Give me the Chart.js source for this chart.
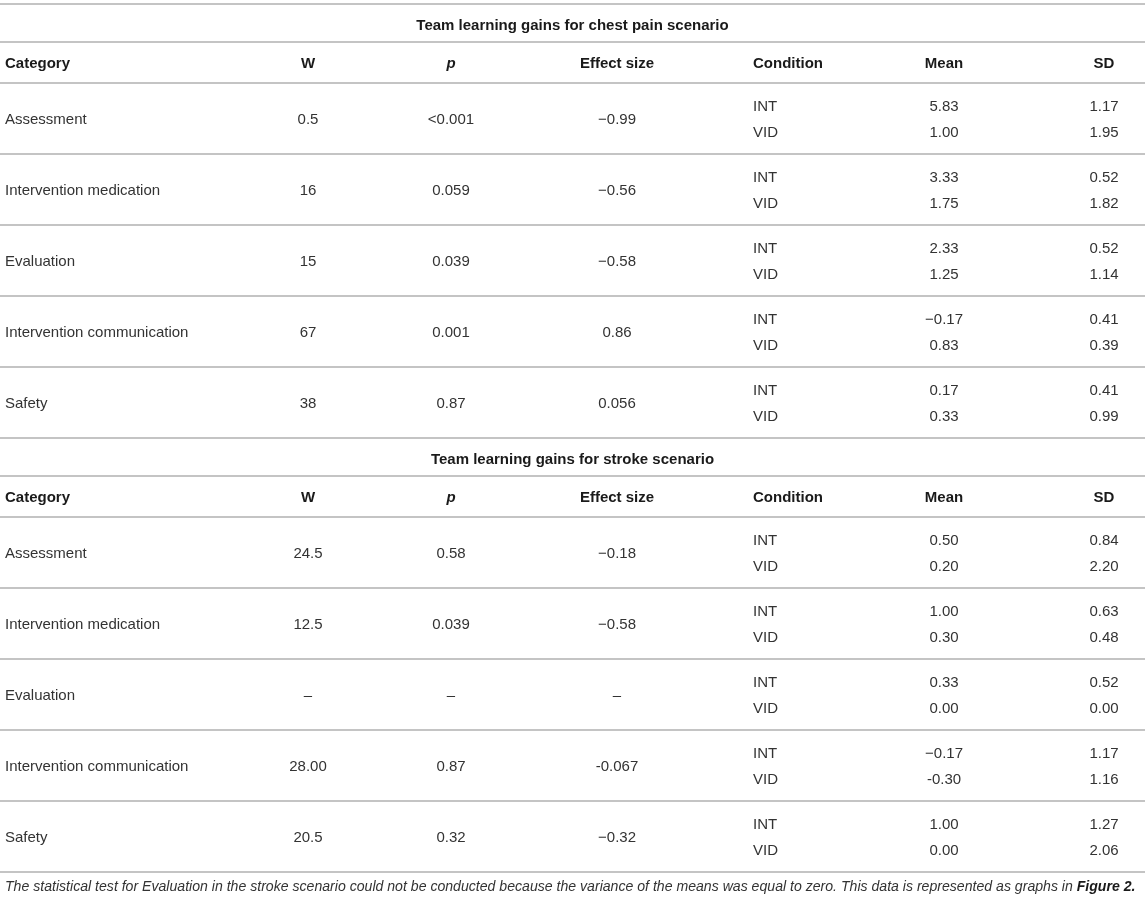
<!DOCTYPE html>
<html>
<head>
<meta charset="utf-8">
<title>Team learning gains</title>
<script src="https://cdn.jsdelivr.net/npm/chart.js@4"></script>
<style>
  html, body { margin: 0; padding: 0; background: #fff; }
  canvas { display: block; }
</style>
</head>
<body>
<canvas id="table" width="1145" height="899"></canvas>
<script>
// Table content
const columns = ['Category', 'W', 'p', 'Effect size', 'Condition', 'Mean', 'SD'];
const scenarios = ['Team learning gains for chest pain scenario', 'Team learning gains for stroke scenario'];
const categories = ['Assessment', 'Intervention medication', 'Evaluation', 'Intervention communication', 'Safety'];
const conditions = ['INT', 'VID'];

const chestW = ['0.5', '16', '15', '67', '38'];
const chestP = ['<0.001', '0.059', '0.039', '0.001', '0.87'];
const chestEffect = ['\u22120.99', '\u22120.56', '\u22120.58', '0.86', '0.056'];
const chestMeanInt = ['5.83', '3.33', '2.33', '\u22120.17', '0.17'];
const chestMeanVid = ['1.00', '1.75', '1.25', '0.83', '0.33'];
const chestSdInt = ['1.17', '0.52', '0.52', '0.41', '0.41'];
const chestSdVid = ['1.95', '1.82', '1.14', '0.39', '0.99'];

const strokeW = ['24.5', '12.5', '\u2013', '28.00', '20.5'];
const strokeP = ['0.58', '0.039', '\u2013', '0.87', '0.32'];
const strokeEffect = ['\u22120.18', '\u22120.58', '\u2013', '-0.067', '\u22120.32'];
const strokeMeanInt = ['0.50', '1.00', '0.33', '\u22120.17', '1.00'];
const strokeMeanVid = ['0.20', '0.30', '0.00', '-0.30', '0.00'];
const strokeSdInt = ['0.84', '0.63', '0.52', '1.17', '1.27'];
const strokeSdVid = ['2.20', '0.48', '0.00', '1.16', '2.06'];

const footnote = 'The statistical test for Evaluation in the stroke scenario could not be conducted because the variance of the means was equal to zero. This data is represented as graphs in ';
const footnoteRef = 'Figure 2.';

// Layout (in scale units, the scales span the canvas)
const colX = [5, 308, 451, 617, 753, 944, 1104];
const colAlign = ['left', 'center', 'center', 'center', 'left', 'center', 'center'];
const topY = 4, titleH = 38, headH = 41, rowH = 71, subOffset = 13;
const titleShift = 3, textShift = 1;

const sections = [
  { title: scenarios[0], w: chestW, p: chestP, eff: chestEffect,
    mean: [chestMeanInt, chestMeanVid], sd: [chestSdInt, chestSdVid] },
  { title: scenarios[1], w: strokeW, p: strokeP, eff: strokeEffect,
    mean: [strokeMeanInt, strokeMeanVid], sd: [strokeSdInt, strokeSdVid] }
];

const cells = [];
const rules = [topY];
let y = topY;
sections.forEach(sec => {
  cells.push({ x: 572.5, y: y + titleH / 2 + titleShift, text: sec.title, kind: 'title', align: 'center' });
  y += titleH;
  rules.push(y);
  columns.forEach((c, i) => {
    cells.push({ x: colX[i], y: y + headH / 2 + textShift, text: c, kind: i === 2 ? 'headItalic' : 'head', align: colAlign[i] });
  });
  y += headH;
  rules.push(y);
  categories.forEach((cat, r) => {
    const mid = y + rowH / 2 + textShift;
    const single = [cat, sec.w[r], sec.p[r], sec.eff[r]];
    single.forEach((t, i) => cells.push({ x: colX[i], y: mid, text: t, kind: 'body', align: colAlign[i] }));
    conditions.forEach((cond, k) => {
      const sy = mid + (k === 0 ? -subOffset : subOffset);
      cells.push({ x: colX[4], y: sy, text: cond, kind: 'body', align: colAlign[4] });
      cells.push({ x: colX[5], y: sy, text: sec.mean[k][r], kind: 'body', align: colAlign[5] });
      cells.push({ x: colX[6], y: sy, text: sec.sd[k][r], kind: 'body', align: colAlign[6] });
    });
    y += rowH;
    rules.push(y);
  });
});
const tableBottom = y;

// horizontal rules as one broken line dataset
const rulePoints = [];
rules.forEach(r => {
  rulePoints.push({ x: 0, y: r }, { x: 1145, y: r }, { x: 572, y: null });
});

const FAMILY = '"Liberation Sans", Arial, Helvetica, sans-serif';
const fonts = {
  title: 'bold 15px ' + FAMILY,
  head: 'bold 15px ' + FAMILY,
  headItalic: 'italic bold 15px ' + FAMILY,
  body: '15px ' + FAMILY
};
const colors = { title: '#1a1a1a', head: '#1a1a1a', headItalic: '#1a1a1a', body: '#333333' };

const cellText = {
  id: 'cellText',
  afterDatasetsDraw(chart) {
    const ctx = chart.ctx;
    const meta = chart.getDatasetMeta(1);
    ctx.save();
    ctx.textBaseline = 'middle';
    meta.data.forEach((pt, i) => {
      const c = chart.data.datasets[1].data[i];
      ctx.font = fonts[c.kind];
      ctx.fillStyle = colors[c.kind];
      ctx.textAlign = c.align;
      ctx.fillText(c.text, pt.x, pt.y);
    });
    // footnote under the table
    const fy = chart.scales.y.getPixelForValue(tableBottom + 15);
    const fx = chart.scales.x.getPixelForValue(colX[0]);
    ctx.textAlign = 'left';
    ctx.fillStyle = '#333333';
    ctx.font = 'italic 14.1px ' + FAMILY;
    ctx.fillText(footnote, fx, fy);
    const w = ctx.measureText(footnote).width;
    ctx.font = 'italic bold 14.1px ' + FAMILY;
    ctx.fillStyle = '#1a1a1a';
    ctx.fillText(footnoteRef, fx + w, fy);
    ctx.restore();
  }
};

new Chart(document.getElementById('table'), {
  type: 'scatter',
  data: {
    datasets: [
      {
        type: 'line',
        data: rulePoints,
        borderColor: '#c4c4c4',
        borderWidth: 2,
        pointRadius: 0,
        spanGaps: false,
        fill: false
      },
      {
        data: cells,
        pointRadius: 0,
        pointHoverRadius: 0,
        backgroundColor: 'transparent',
        borderColor: 'transparent'
      }
    ]
  },
  options: {
    responsive: false,
    animation: false,
    events: [],
    devicePixelRatio: 1,
    layout: { padding: 0 },
    plugins: {
      legend: { display: false },
      tooltip: { enabled: false }
    },
    scales: {
      x: { type: 'linear', min: 0, max: 1145, display: false },
      y: { type: 'linear', min: 0, max: 899, reverse: true, display: false }
    }
  },
  plugins: [cellText]
});
</script>
</body>
</html>
